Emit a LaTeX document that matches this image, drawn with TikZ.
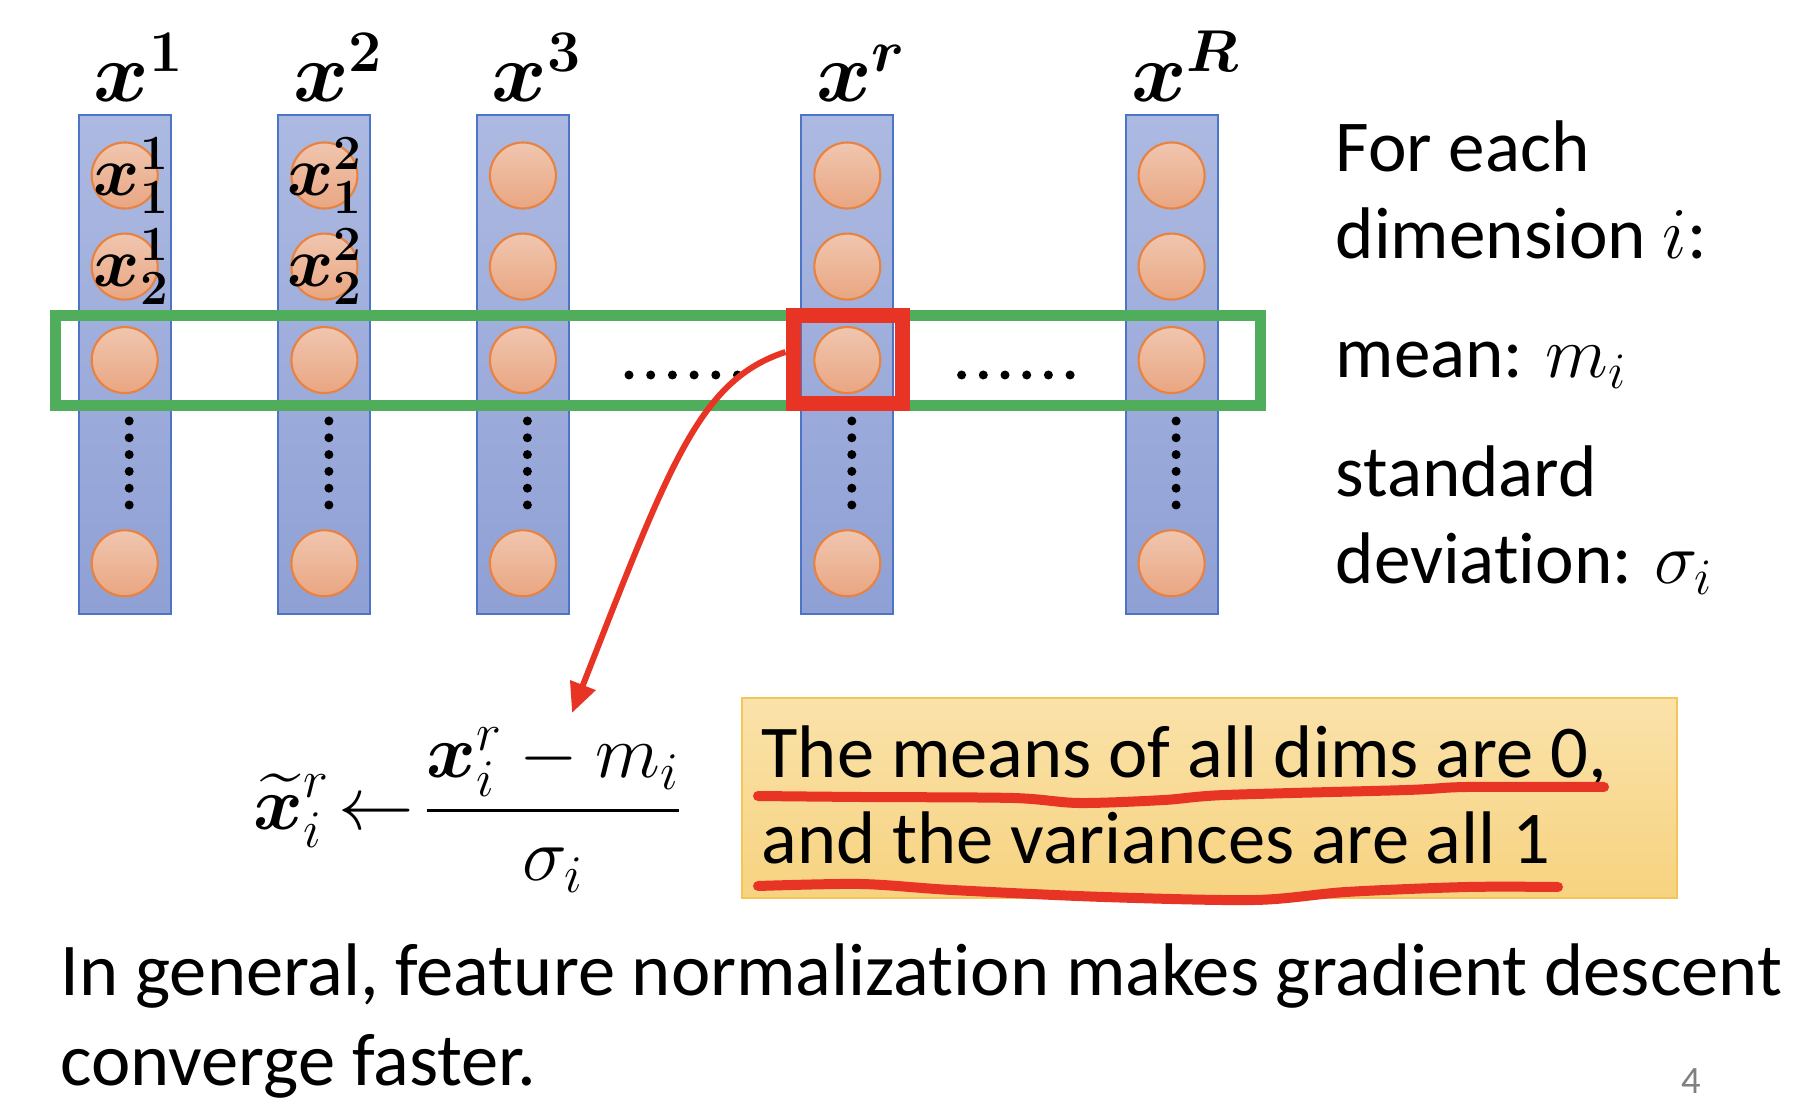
\RequirePackage{fix-cm}
\documentclass[tikz,border=0pt]{standalone}
\usepackage{amsmath,bm}
\usepackage{fontspec}
\setmainfont{Carlito}[Ligatures=NoCommon]
\usetikzlibrary{arrows.meta,positioning}

\definecolor{coltop}{RGB}{172,185,225}
\definecolor{colbot}{RGB}{143,160,213}
\definecolor{colline}{RGB}{78,116,200}
\definecolor{unittop}{RGB}{240,198,175}
\definecolor{unitbot}{RGB}{233,166,130}
\definecolor{unitline}{RGB}{232,130,62}
\definecolor{rowgreen}{RGB}{80,173,92}
\definecolor{pickred}{RGB}{232,52,36}
\definecolor{notetop}{RGB}{250,226,170}
\definecolor{notebot}{RGB}{247,211,128}
\definecolor{noteline}{RGB}{244,198,90}

\begin{document}
\begin{tikzpicture}[x=1cm, y=1cm,
    column/.style={rectangle, draw=colline, line width=0.6pt, top color=coltop, bottom color=colbot, minimum width=0.92cm, minimum height=4.99cm, inner sep=0pt},
    unit/.style={circle, draw=unitline, line width=0.6pt, top color=unittop, bottom color=unitbot, minimum size=0.66cm, inner sep=0pt},
    dotmark/.style={circle, fill=black, minimum size=0.09cm, inner sep=0pt},
    collabel/.style={font=\fontsize{24}{28}\selectfont, anchor=base, inner sep=0pt},
    unitlabel/.style={font=\fontsize{20}{24}\selectfont, inner sep=0pt},
    sidetext/.style={font=\fontsize{20.8}{25}\selectfont, anchor=base west, inner sep=0pt},
    bodytext/.style={font=\fontsize{21.2}{25}\selectfont, anchor=base west, inner sep=0pt},
    rowbox/.style={draw=rowgreen, line width=0.11cm},
    pickbox/.style={rectangle, draw=pickred, line width=0.15cm, minimum width=1.09cm, minimum height=0.88cm, inner sep=0pt},
    redarrow/.style={draw=pickred, line width=0.06cm, -{Triangle[length=0.3cm, width=0.26cm]}},
    notebox/.style={rectangle, draw=noteline, line width=0.6pt, top color=notetop, bottom color=notebot, minimum width=9.35cm, minimum height=2.0cm, inner sep=0pt},
    scribble/.style={draw=pickred, line width=0.1cm, line cap=round, line join=round}]

    \useasboundingbox (0,0) rectangle (18.10,-11.18);

    % Feature vectors
    \foreach \n/\x in {1/1.247, 2/3.244, 3/5.229, r/8.473, R/11.716} {
        \node[column] (col\n) at (\x,-3.648) {};
        \foreach \row/\y in {a/-1.755, b/-2.666, c/-3.601, d/-5.633} {
            \node[unit] (u\n\row) at (\x,\y) {};
        }
        \foreach \k in {0,...,5} {
            \node[dotmark] (vd\n\k) at (\x+0.045,-4.21-\k*0.168) {};
        }
        \node[collabel] (lab\n) at (\x+0.14,-1.017) {$\bm{x^{\n}}$};
    }

    % Components written in the first two vectors
    \node[unitlabel] (ul1a) at ([xshift=0.07cm]u1a) {$\bm{x^1_1}$};
    \node[unitlabel] (ul1b) at ([xshift=0.07cm]u1b) {$\bm{x^1_2}$};
    \node[unitlabel] (ul2a) at ([xshift=0.01cm]u2a) {$\bm{x^2_1}$};
    \node[unitlabel] (ul2b) at ([xshift=0.01cm]u2b) {$\bm{x^2_2}$};

    % Dimension i across all vectors
    \draw[rowbox] (0.555,-3.16) rectangle (12.60,-4.06);
    \foreach \k in {0,...,5} {
        \node[dotmark] (hl\k) at (6.29+\k*0.217,-3.75) {};
        \node[dotmark] (hr\k) at (9.616+\k*0.217,-3.75) {};
    }

    % Picked component and arrow to the formula
    \node[pickbox] (pick) at (8.475,-3.60) {};
    \coordinate (tip) at (5.72,-7.13);
    \draw[redarrow] ([yshift=0.08cm]pick.west) .. controls +(-0.86,-0.28) and +(0.98,2.50) .. (tip);

    % Formula
    \node[font=\fontsize{21.5}{26}\selectfont, anchor=base west, inner sep=0pt] (formula) at (2.53,-8.29)
        {$\displaystyle \widetilde{\bm{x}}{}^r_i \!\leftarrow\! \frac{\bm{x}^r_i - m_i}{\sigma_i}$};

    % Right hand text
    \node[sidetext] (foreach) at (13.35,-1.717) {For each};
    \node[sidetext] (dimtxt) at (13.35,-2.583) {dimension $i$:};
    \node[sidetext] (meantxt) at (13.35,-3.78) {mean: $m_i$};
    \node[sidetext] (stdtxt) at (13.35,-4.967) {standard};
    \node[sidetext] (devtxt) at (13.35,-5.833) {deviation: $\sigma_i$};

    % Note box
    \node[notebox] (note) at (12.095,-7.98) {};
    \node[bodytext] (noteone) at (7.61,-7.78) {The means of all dims are 0,};
    \node[bodytext] (notetwo) at (7.61,-8.63) {and the variances are all 1};
    \draw[scribble] plot[smooth] coordinates {
        (7.58,-7.96) (8.61,-7.97) (10.13,-7.98) (10.79,-8.03) (11.64,-8.00)
        (12.25,-7.95) (14.07,-7.90) (14.67,-7.87) (16.04,-7.87)
    };
    \draw[scribble] plot[smooth] coordinates {
        (7.58,-8.86) (8.61,-8.84) (9.52,-8.90) (11.04,-8.97) (12.55,-9.00)
        (13.46,-8.92) (14.67,-8.87) (15.58,-8.87)
    };

    % Bottom line
    \node[bodytext] (genone) at (0.60,-9.95) {In general, feature normalization makes gradient descent};
    \node[bodytext] (gentwo) at (0.60,-10.85) {converge faster.};

    % Page number
    \node[font=\fontsize{11}{12}\selectfont, text=gray] (pagenum) at (16.91,-10.81) {4};

\end{tikzpicture}
\end{document}
